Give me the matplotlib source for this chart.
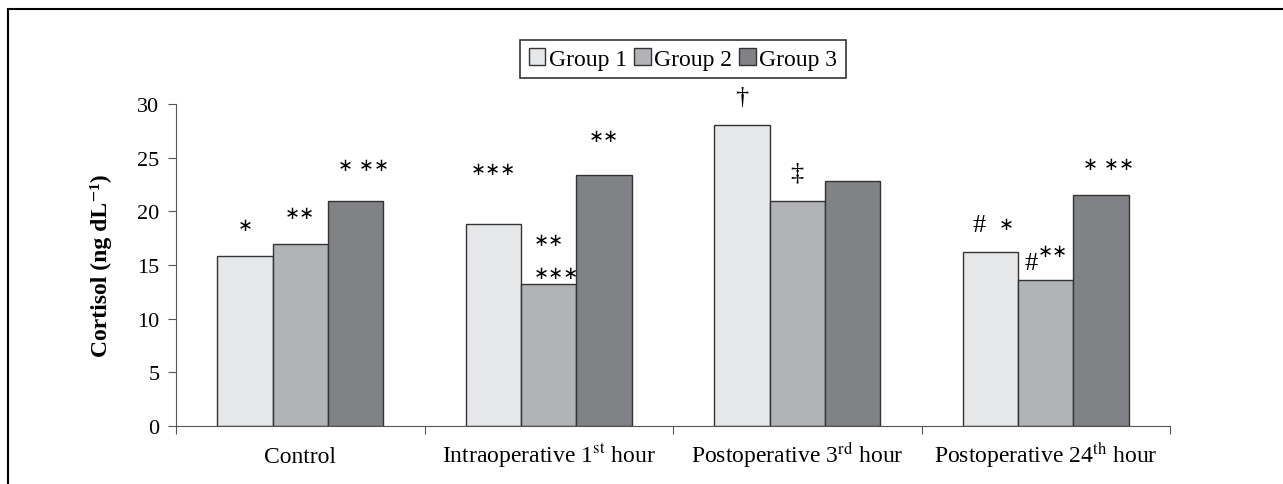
import numpy as np
import matplotlib.pyplot as plt
from matplotlib.patches import Rectangle

plt.rcParams['font.family'] = ['Liberation Serif', 'DejaVu Serif']
plt.rcParams['mathtext.fontset'] = 'stix'

categories = ['Control', 'Intraoperative 1$^{\\mathrm{st}}$ hour',
              'Postoperative 3$^{\\mathrm{rd}}$ hour', 'Postoperative 24$^{\\mathrm{th}}$ hour']
groups = ['Group 1', 'Group 2', 'Group 3']
group1 = [15.8, 18.8, 28.0, 16.2]
group2 = [17.0, 13.2, 21.0, 13.6]
group3 = [21.0, 23.4, 22.8, 21.5]
colors = ['#e6e7e8', '#b1b3b6', '#808285']

# (text, category, group, y)
marks = [
    ('∗', 0, 0, 18.7), ('∗∗', 0, 1, 19.8), ('∗ ∗∗', 0, 2, 24.3),
    ('∗∗∗', 1, 0, 23.9), ('∗∗', 1, 1, 17.3), ('∗∗∗', 1, 1, 14.3), ('∗∗', 1, 2, 27.0),
    ('†', 2, 0, 30.7), ('‡', 2, 1, 23.6),
    ('#', 3, 0, 18.7), ('∗', 3, 0, 18.8), ('#', 3, 1, 15.2), ('∗∗', 3, 1, 16.3),
    ('∗ ∗∗', 3, 2, 24.4),
]
dx = [0, 0, 0.03, 0, 0, 0.03, 0, 0, 0, -0.045, 0.065, -0.06, 0.03, 0.03]

fig = plt.figure(figsize=(12.83, 4.85), dpi=100)
ax = fig.add_axes([176/1283, 1-427/485, (1170-176)/1283, (427-105)/485])

x = np.arange(len(categories))
w = 0.223
data = [group1, group2, group3]
for i, vals in enumerate(data):
    ax.bar(x + (i-1)*w, vals, w, color=colors[i], edgecolor='#333333',
           linewidth=1.0, label=groups[i], zorder=2)

for (t, c, g, y), d in zip(marks, dx):
    big = t in ('†', '‡', '#')
    ax.text(c + (g-1)*w + d, y, t, ha='center', va='center',
            fontsize=19 if big else 13,
            family=['Liberation Serif'] if big else ['DejaVu Sans'], clip_on=False)

ax.set_xlim(-0.5, 3.5)
ax.set_ylim(0, 30)
ax.set_yticks(range(0, 31, 5))
ax.set_xticks(np.arange(-0.5, 4, 1))
ax.set_xticklabels([])
ax.set_xticks(x, minor=True)
ax.set_xticklabels(categories, minor=True, fontsize=17, va='baseline')
ax.tick_params(axis='x', which='minor', length=0, pad=26)
ax.tick_params(axis='x', which='major', length=6, direction='out', color='#555555')
ax.tick_params(axis='y', length=6, direction='out', color='#555555', labelsize=16, pad=6)
for s in ['top', 'right']:
    ax.spines[s].set_visible(False)
for s in ['left', 'bottom']:
    ax.spines[s].set_color('#555555')
ax.set_ylabel('Cortisol (ng dL⁻¹)', fontsize=17, fontweight='bold', labelpad=18)

leg = fig.legend(loc='center', bbox_to_anchor=(683/1283, 1-60/485), ncol=3,
                 frameon=True, fancybox=False, edgecolor='black', fontsize=17,
                 handlelength=0.7, handleheight=0.7, handletextpad=0.15,
                 columnspacing=0.3, borderpad=0.35)
leg.get_frame().set_linewidth(1.2)

fig.add_artist(Rectangle((8/1283, -0.05), 1.1, 1.05 - 10/485, transform=fig.transFigure,
                         fill=False, edgecolor='black', linewidth=1.5, clip_on=False))

fig.savefig('out.png', dpi=100)
